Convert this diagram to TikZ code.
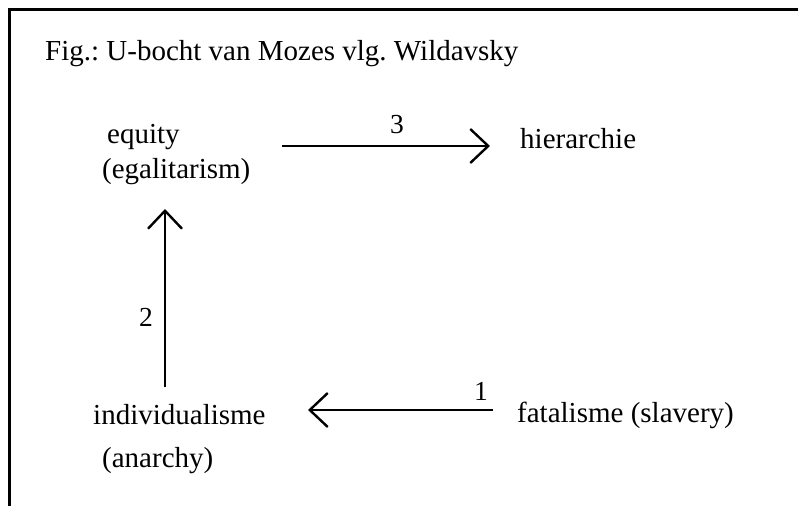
\documentclass[tikz,border=0pt]{standalone}
\usepackage{fontspec}
\setmainfont{Liberation Serif}
\usetikzlibrary{arrows.meta}
\frenchspacing
\tikzset{
  lbl/.style={anchor=base west, inner sep=0pt, font=\fontsize{29}{32}\selectfont},
  num/.style={anchor=base, inner sep=0pt, font=\fontsize{27.5}{30}\selectfont},
  flow/.style={line width=2.4pt, -{Straight Barb[length=18pt, width=34pt, line width=2.4pt]}},
  frame/.style={line width=3pt}
}
\begin{document}
\begin{tikzpicture}[x=1pt, y=-1pt]
  \useasboundingbox (0,0) rectangle (798,506);
  % open frame: top edge and left edge only
  \draw[frame] (9,506) -- (9,9) -- (798,9);

  \node[lbl] (title) at (45,60) {Fig.: U-bocht van Mozes vlg. Wildavsky};

  \node[lbl] (eq1) at (107,143) {equity};
  \node[lbl] (eq2) at (102,178) {(egalitarism)};
  \node[lbl] (hier) at (520,148) {hierarchie};
  \node[lbl] (ind1) at (93,424) {individualisme};
  \node[lbl] (ind2) at (102,467) {(anarchy)};
  \node[lbl] (fat) at (517,422) {fatalisme (slavery)};

  % arrow anchors
  \coordinate (a3s) at (282,146);
  \coordinate (a3e) at (490,146);
  \coordinate (a2s) at (165,387);
  \coordinate (a2e) at (165,209);
  \coordinate (a1s) at (493,410);
  \coordinate (a1e) at (308,410);

  \draw[flow] (a3s) -- (a3e);
  \draw[flow] (a2s) -- (a2e);
  \draw[flow] (a1s) -- (a1e);

  \node[num] (n3) at (397,133) {3};
  \node[num] (n2) at (146,326) {2};
  \node[num] (n1) at (481,400) {1};
\end{tikzpicture}
\end{document}
